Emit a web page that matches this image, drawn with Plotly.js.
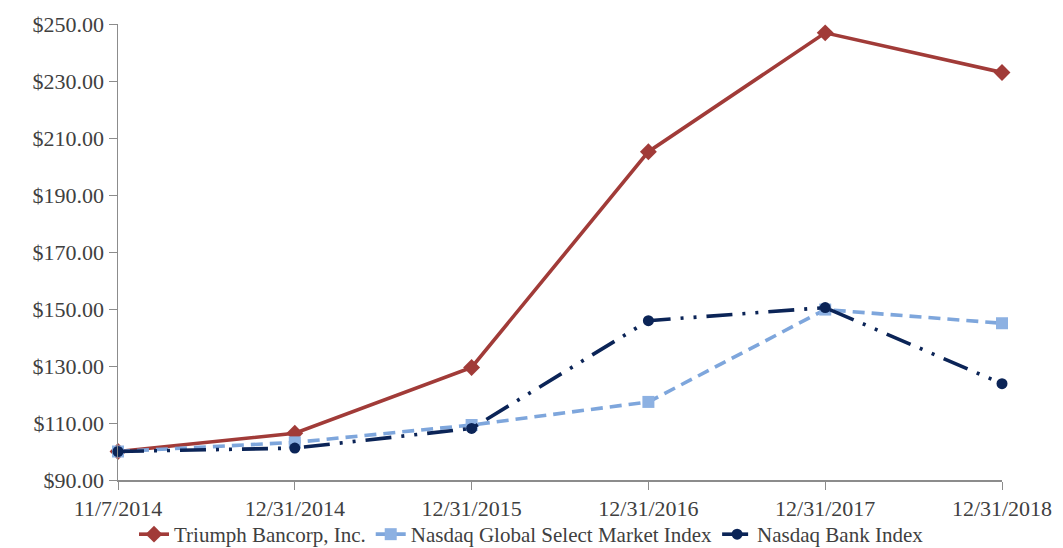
<!DOCTYPE html>
<html>
<head>
<meta charset="utf-8">
<script src="https://cdn.plot.ly/plotly-3.0.1.min.js"></script>
<style>html,body{margin:0;padding:0;background:#fff;}#chart{width:1063px;height:548px;}</style>
</head>
<body>
<div id="chart"></div>
<script>
const dates = ["11/7/2014", "12/31/2014", "12/31/2015", "12/31/2016", "12/31/2017", "12/31/2018"];
const triumph = [100.00, 106.4, 129.5, 205.2, 246.9, 233.0];
const nasdaqGlobal = [100.00, 103.2, 109.3, 117.4, 149.8, 145.0];
const nasdaqBank = [100.00, 101.2, 108.1, 145.9, 150.5, 123.8];
const yTicks = [90, 110, 130, 150, 170, 190, 210, 230, 250];
const yTickText = yTicks.map(v => "$" + v.toFixed(2));

const tickFont = {family: "Liberation Serif, Times New Roman, serif", size: 22, color: "#404040"};
const legendFont = {family: "Liberation Serif, Times New Roman, serif", size: 21, color: "#404040"};

const traces = [
  {x: dates, y: triumph, name: "Triumph Bancorp, Inc.", mode: "lines+markers",
   line: {color: "#A13B38", width: 3.6}, marker: {symbol: "diamond", size: 13, color: "#A13B38"}, cliponaxis: false},
  {x: dates, y: nasdaqGlobal, name: "Nasdaq Global Select Market Index", mode: "lines+markers",
   line: {color: "#7EA6DC", width: 3.6, dash: "12px,7px"}, marker: {symbol: "square", size: 12, color: "#8DB1E2"}, cliponaxis: false},
  {x: dates, y: nasdaqBank, name: "Nasdaq Bank Index", mode: "lines+markers",
   line: {color: "#0B2457", width: 3.6, dash: "26px,10px,3px,10px,3px,10px"}, marker: {symbol: "circle", size: 11, color: "#0B2457"}, cliponaxis: false}
];

const layout = {
  width: 1063, height: 548,
  margin: {l: 118, r: 61, t: 24, b: 68, autoexpand: false},
  paper_bgcolor: "#fff", plot_bgcolor: "#fff",
  font: tickFont,
  showlegend: true,
  legend: {orientation: "h", x: 0.5, xref: "container", xanchor: "center", y: 0.062, yref: "container", yanchor: "top",
           bgcolor: "rgba(0,0,0,0)", font: legendFont, tracegroupgap: 0},
  xaxis: {type: "category", range: [0, 5], showgrid: false, zeroline: false, showline: true, automargin: false,
          linecolor: "#8c8c8c", linewidth: 1.5, ticks: "outside", ticklen: 8, tickcolor: "#8c8c8c",
          tickfont: tickFont, fixedrange: true},
  yaxis: {range: [90, 250], tickvals: yTicks, ticktext: yTickText, showgrid: false, zeroline: false, automargin: false,
          showline: true, linecolor: "#8c8c8c", linewidth: 1.5, ticks: "outside", ticklen: 8,
          tickcolor: "#8c8c8c", tickfont: tickFont}
};

Plotly.newPlot("chart", traces, layout, {displayModeBar: false, staticPlot: true});
</script>
</body>
</html>
